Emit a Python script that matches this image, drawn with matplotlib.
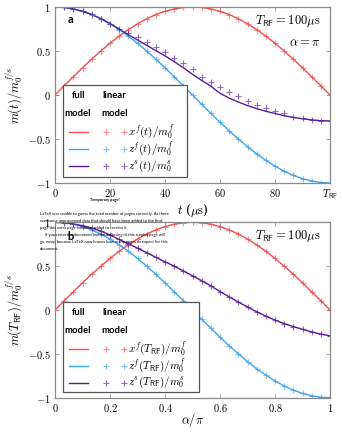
import numpy as np
import matplotlib
matplotlib.use("Agg")
import matplotlib.pyplot as plt
from matplotlib.lines import Line2D
from matplotlib.patches import Rectangle

plt.rcParams['mathtext.fontset'] = 'cm'
plt.rcParams['font.family'] = ['DejaVu Serif']

# ---------------- data ----------------
t_us = [0, 3.33, 6.67, 10, 13.33, 16.67, 20, 23.33, 26.67, 30, 33.33, 36.67, 40,
        43.33, 46.67, 50, 53.33, 56.67, 60, 63.33, 66.67, 70, 73.33, 76.67, 80,
        83.33, 86.67, 90, 93.33, 96.67, 100]
alpha_pi = [0, 0.033, 0.067, 0.1, 0.133, 0.167, 0.2, 0.233, 0.267, 0.3, 0.333,
            0.367, 0.4, 0.433, 0.467, 0.5, 0.533, 0.567, 0.6, 0.633, 0.667, 0.7,
            0.733, 0.767, 0.8, 0.833, 0.867, 0.9, 0.933, 0.967, 1.0]

xf_vals = [0, 0.105, 0.208, 0.309, 0.407, 0.5, 0.588, 0.669, 0.743, 0.809, 0.866,
           0.914, 0.951, 0.978, 0.995, 1.0, 0.995, 0.978, 0.951, 0.914, 0.866,
           0.809, 0.743, 0.669, 0.588, 0.5, 0.407, 0.309, 0.208, 0.105, 0]
zf_vals = [1, 0.995, 0.978, 0.951, 0.914, 0.866, 0.809, 0.743, 0.669, 0.588, 0.5,
           0.407, 0.309, 0.208, 0.105, 0, -0.105, -0.208, -0.309, -0.407, -0.5,
           -0.588, -0.669, -0.743, -0.809, -0.866, -0.914, -0.951, -0.978, -0.995, -1]

zs_full_t = [1.0, 0.995, 0.978, 0.951, 0.915, 0.868, 0.812, 0.75, 0.685, 0.625,
             0.565, 0.505, 0.445, 0.38, 0.31, 0.235, 0.165, 0.10, 0.02, -0.035,
             -0.08, -0.12, -0.155, -0.185, -0.21, -0.235, -0.255, -0.27, -0.283,
             -0.292, -0.295]
zs_lin_t = [1.0, 0.995, 0.978, 0.951, 0.915, 0.868, 0.812, 0.752, 0.70, 0.66,
            0.60, 0.545, 0.485, 0.425, 0.36, 0.29, 0.21, 0.15, 0.09, 0.035,
            -0.015, -0.065, -0.11, -0.145, -0.18, -0.21, -0.245, -0.265, -0.28,
            -0.29, -0.295]

zs_alpha = [1.0, 0.995, 0.982, 0.962, 0.935, 0.90, 0.855, 0.805, 0.755, 0.705,
            0.655, 0.60, 0.55, 0.50, 0.445, 0.39, 0.335, 0.275, 0.21, 0.15, 0.09,
            0.035, -0.02, -0.07, -0.115, -0.155, -0.19, -0.22, -0.25, -0.275, -0.295]

top_xticks = [0, 20, 40, 60, 80, 100]
top_xticklabels = ["$0$", "$20$", "$40$", "$60$", "$80$", r"$T_{\mathsf{RF}}$"]
bot_xticks = [0, 0.2, 0.4, 0.6, 0.8, 1.0]
bot_xticklabels = ["$0$", "$0.2$", "$0.4$", "$0.6$", "$0.8$", "$1$"]
yticks = [-1, -0.5, 0, 0.5, 1]
yticklabels = ["$-1$", "$-0.5$", "$0$", "$0.5$", "$1$"]

RED = "#f0504f"
BLUE = "#3fa4ea"
PURPLE = "#581c9a"

W, H = 342, 432
fig = plt.figure(figsize=(W / 100, H / 100), dpi=100)


def ax_rect(l, r, t, b):
    return [l / W, 1 - b / H, (r - l) / W, (b - t) / H]


def P(x, y):
    return (x / W, 1 - y / H)


def style_axes(ax):
    for s in ax.spines.values():
        s.set_color("#8a8a8a")
        s.set_linewidth(0.9)
    ax.tick_params(direction="in", length=3, width=0.6, color="#9a9a9a",
                   top=True, right=True, labelsize=7.5, pad=3)
    ax.set_ylim(-1, 1)
    ax.set_yticks(yticks)
    ax.set_yticklabels(yticklabels)


mk = dict(marker="+", linestyle="none", markersize=4.5, mew=0.8, alpha=0.65)

# ---- top panel ----
ax1 = fig.add_axes(ax_rect(55, 330, 7, 183))
ax1.plot(t_us, xf_vals, color=RED, lw=1.0)
ax1.plot(t_us, zf_vals, color=BLUE, lw=1.0)
ax1.plot(t_us, zs_full_t, color=PURPLE, lw=1.0)
ax1.plot(t_us, xf_vals, color=RED, **mk)
ax1.plot(t_us, zf_vals, color=BLUE, **mk)
ax1.plot(t_us, zs_lin_t, color=PURPLE, **mk)
ax1.set_xlim(0, 100)
style_axes(ax1)
ax1.set_xticks(top_xticks)
ax1.set_xticklabels(top_xticklabels)
ax1.set_ylabel(r"$m(t)/m_0^{f/s}$", fontsize=9, labelpad=2)
ax1.text(0.965, 0.92, r"$T_{\mathsf{RF}} = 100\mathrm{\mu s}$", transform=ax1.transAxes,
         ha="right", va="center", fontsize=9)
ax1.text(0.965, 0.80, r"$\alpha = \pi$", transform=ax1.transAxes,
         ha="right", va="center", fontsize=9)
ax1.text(0.045, 0.93, "a", transform=ax1.transAxes, ha="left", va="center",
         fontsize=8, fontweight="bold", family="Lato")

# ---- bottom panel ----
ax2 = fig.add_axes(ax_rect(55, 330, 222.3, 397.7))
ax2.plot(alpha_pi, xf_vals, color=RED, lw=1.0)
ax2.plot(alpha_pi, zf_vals, color=BLUE, lw=1.0)
ax2.plot(alpha_pi, zs_alpha, color=PURPLE, lw=1.0)
ax2.plot(alpha_pi, xf_vals, color=RED, **mk)
ax2.plot(alpha_pi, zf_vals, color=BLUE, **mk)
ax2.plot(alpha_pi, zs_alpha, color=PURPLE, **mk)
ax2.set_xlim(0, 1)
style_axes(ax2)
ax2.set_xticks(bot_xticks)
ax2.set_xticklabels(bot_xticklabels)
ax2.set_ylabel(r"$m(T_{\mathsf{RF}})/m_0^{f/s}$", fontsize=9, labelpad=2)
ax2.text(0.965, 0.92, r"$T_{\mathsf{RF}} = 100\mathrm{\mu s}$", transform=ax2.transAxes,
         ha="right", va="center", fontsize=9)
ax2.text(0.045, 0.92, "b", transform=ax2.transAxes, ha="left", va="center",
         fontsize=8, fontweight="bold", family="Lato", zorder=10)

# x labels
fig.text(*P(193, 210), r"$t$ ($\mathrm{\mu s}$)", ha="center", va="center", fontsize=9)
fig.text(*P(193, 420), r"$\alpha/\pi$", ha="center", va="center", fontsize=9)


# ---- legends ----
def legend(top, bottom, right, labels):
    rect = Rectangle(P(63, bottom), (right - 63) / W, (bottom - top) / H,
                     transform=fig.transFigure, facecolor="white",
                     edgecolor="#555555", lw=0.9, zorder=5)
    fig.add_artist(rect)
    fig.text(*P(72, top + 11), "full", fontsize=6.8, fontweight="bold",
             family="Lato", va="center", zorder=6)
    fig.text(*P(102, top + 11), "linear", fontsize=6.8, fontweight="bold",
             family="Lato", va="center", zorder=6)
    fig.text(*P(64, top + 29), "model", fontsize=6.8, fontweight="bold",
             family="Lato", va="center", zorder=6)
    fig.text(*P(101, top + 29), "model", fontsize=6.8, fontweight="bold",
             family="Lato", va="center", zorder=6)
    for i, (col, lab) in enumerate(zip([RED, BLUE, PURPLE], labels)):
        y = top + 47 + 17 * i
        x0, y0 = P(69, y)
        x1, _ = P(88, y)
        fig.add_artist(Line2D([x0, x1], [y0, y0], color=col, lw=1.0,
                              transform=fig.transFigure, zorder=6))
        xm1, _ = P(106, y)
        xm2, _ = P(124, y)
        fig.add_artist(Line2D([xm1, xm2], [y0, y0], color=col,
                              transform=fig.transFigure, zorder=6, **mk))
        fig.text(*P(128, y), lab, fontsize=8, va="center", zorder=6)


legend(85, 177, 187, [r"$x^f(t)/m_0^f$", r"$z^f(t)/m_0^f$", r"$z^s(t)/m_0^s$"])
legend(301.5, 391.5, 199, [r"$x^f(T_{\mathsf{RF}})/m_0^f$",
                           r"$z^f(T_{\mathsf{RF}})/m_0^f$",
                           r"$z^s(T_{\mathsf{RF}})/m_0^s$"])

# ---- LaTeX "temporary page" artefact ----
fig.text(*P(105, 200), "Temporary page!", fontsize=2.8, fontweight="bold",
         family="Lato", ha="center", va="center", zorder=9)
para = ["LaTeX was unable to guess the total number of pages correctly. As there",
        "was some unprocessed data that should have been added to the final",
        "page this extra page has been added to receive it.",
        "     If you rerun the document (without altering it) this surplus page will",
        "go away, because LaTeX now knows how many pages to expect for this",
        "document."]
for i, line in enumerate(para):
    fig.text(*P(40, 214 + 7.1 * i), line, fontsize=3.0, family="Lato",
             ha="left", va="center", zorder=9)

fig.savefig("out.png", dpi=100)
